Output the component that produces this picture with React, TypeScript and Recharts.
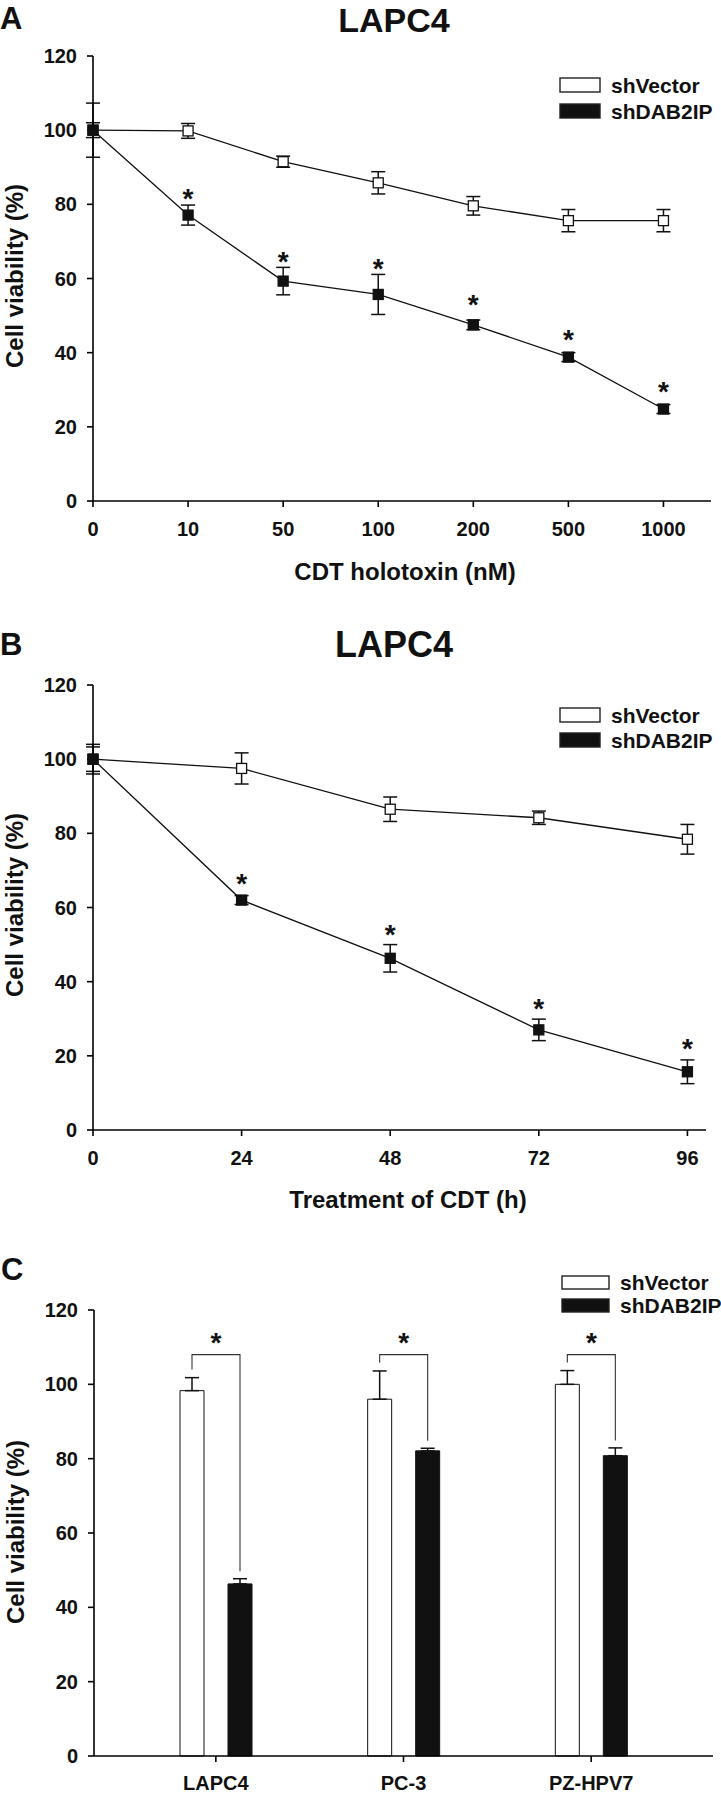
import React from 'react';
import { ComposedChart, Line, Bar, XAxis, YAxis, ErrorBar, LabelList } from 'recharts';

// panel A: dose response (nM)
const doseLabels = ['0', '10', '50', '100', '200', '500', '1000'];
const doseVector = [100, 99.8, 91.5, 85.8, 79.6, 75.6, 75.6];
const doseVectorErr = [2, 2, 1.5, 3, 2.5, 3, 3];
const doseDab = [100, 77.1, 59.3, 55.7, 47.5, 38.8, 24.8];
const doseDabErr = [7.3, 2.7, 3.7, 5.4, 1.3, 1.2, 1.2];
const doseStars = [null, 83.3, 66.3, 64.5, 54.7, 45.3, 31.3];

// panel B: time course (h)
const hours = [0, 24, 48, 72, 96];
const timeVector = [100, 97.5, 86.5, 84.2, 78.4];
const timeVectorErr = [3.3, 4.2, 3.3, 1.8, 4.0];
const timeDab = [100, 62.0, 46.3, 27.0, 15.7];
const timeDabErr = [4.0, 1.2, 3.7, 2.9, 3.2];
const timeStars = [null, 68.3, 54.4, 34.6, 23.8];

// panel C: cell lines
const cellLines = ['LAPC4', 'PC-3', 'PZ-HPV7'];
const cellVector = [98.3, 96.0, 100.0];
const cellVectorErr = [3.5, 7.6, 3.7];
const cellDab = [46.3, 82.1, 80.8];
const cellDabErr = [1.4, 0.7, 2.1];
const bracketLevel = [108, 108, 108];
const starLevel = [113, 113, 113];

const yTicks = [0, 20, 40, 60, 80, 100, 120];

const sans = '"Liberation Sans", Arial, sans-serif';
const ink = '#111';

const BAR = 24;
const GAP = 24;

const dataA = doseLabels.map((_, i) => ({
  x: i,
  vec: doseVector[i],
  vecErr: doseVectorErr[i],
  dab: doseDab[i],
  dabErr: doseDabErr[i],
  star: doseStars[i],
}));

const dataB = hours.map((h, i) => ({
  x: h,
  vec: timeVector[i],
  vecErr: timeVectorErr[i],
  dab: timeDab[i],
  dabErr: timeDabErr[i],
  star: timeStars[i],
}));

const dataC = cellLines.map((c, i) => ({
  cell: c,
  vec: cellVector[i],
  vecErr: cellVectorErr[i],
  dab: cellDab[i],
  dabErr: cellDabErr[i],
  bracket: bracketLevel[i],
  star: starLevel[i],
}));

const axisLine = { stroke: '#000', strokeWidth: 1.6 };
const tickStyle = { fill: ink, fontSize: 20, fontFamily: sans, fontWeight: 'bold' };

function Txt({ x, y, size, anchor = 'start', children }: any) {
  return (
    <text x={x} y={y} textAnchor={anchor} fontSize={size} fontFamily={sans} fontWeight="bold" fill={ink}>
      {children}
    </text>
  );
}

const squareDot = (filled: boolean) => (p: any) => {
  if (p.cx == null || p.cy == null) return <g key={`d${p.index}`} />;
  const s = 10;
  return (
    <rect
      key={`d${p.index}`}
      x={p.cx - s / 2}
      y={p.cy - s / 2}
      width={s}
      height={s}
      fill={filled ? ink : '#fff'}
      stroke={ink}
      strokeWidth={1.3}
    />
  );
};

const Star = ({ x, cy }: any) => (
  <text x={x} y={cy + 16} textAnchor="middle" fontSize={28} fontWeight="bold" fontFamily={sans} fill={ink}>
    *
  </text>
);

const starDot = (p: any) => {
  if (p.cx == null || p.cy == null || p.value == null) return <g key={`s${p.index}`} />;
  return (
    <g key={`s${p.index}`}>
      <Star x={p.cx} cy={p.cy} />
    </g>
  );
};

function LinePanel({ data, top, height, margin, domain, ticks, fmt }: any) {
  return (
    <div style={{ position: 'absolute', left: 0, top }}>
      <ComposedChart width={721} height={height} data={data} margin={margin}>
        <XAxis
          type="number"
          dataKey="x"
          domain={domain}
          ticks={ticks}
          tickFormatter={fmt}
          tick={tickStyle}
          axisLine={axisLine}
          tickLine={axisLine}
          tickSize={6}
          tickMargin={15}
          height={30}
          interval={0}
        />
        <YAxis
          domain={[0, 120]}
          ticks={yTicks}
          tick={tickStyle}
          axisLine={axisLine}
          tickLine={axisLine}
          tickSize={6}
          tickMargin={10}
          width={60}
          interval={0}
        />
        <Line
          dataKey="vec"
          stroke={ink}
          strokeWidth={1.3}
          dot={squareDot(false)}
          activeDot={false}
          isAnimationActive={false}
        >
          <ErrorBar dataKey="vecErr" width={7} stroke={ink} strokeWidth={1.5} />
        </Line>
        <Line
          dataKey="dab"
          stroke={ink}
          strokeWidth={1.3}
          dot={squareDot(true)}
          activeDot={false}
          isAnimationActive={false}
        >
          <ErrorBar dataKey="dabErr" width={7} stroke={ink} strokeWidth={1.5} />
        </Line>
        <Line
          dataKey="star"
          stroke="none"
          dot={starDot}
          activeDot={false}
          isAnimationActive={false}
        />
      </ComposedChart>
    </div>
  );
}

const bracketLabel = (p: any) => {
  const vb = p.viewBox || p;
  const x = vb.x ?? p.x;
  const y = vb.y ?? p.y;
  const w = vb.width ?? p.width;
  const h = vb.height ?? p.height;
  const row = dataC[p.index];
  if (!row || x == null) return null;
  const ppu = h / row.dab;
  const base = y + h;
  const yOf = (v: number) => base - v * ppu;
  const rightX = x + w / 2;
  const leftX = rightX - (BAR + GAP);
  const midX = (leftX + rightX) / 2;
  const by = yOf(row.bracket);
  return (
    <g key={`b${p.index}`}>
      <polyline
        points={`${leftX},${yOf(row.vec + row.vecErr + 2.2)} ${leftX},${by} ${rightX},${by} ${rightX},${yOf(row.dab + row.dabErr + 2)}`}
        fill="none"
        stroke="#333"
        strokeWidth={1.1}
      />
      <Star x={midX} cy={yOf(row.star)} />
    </g>
  );
};

function BarPanel() {
  return (
    <div style={{ position: 'absolute', left: 0, top: 1250 }}>
      <ComposedChart
        width={721}
        height={543}
        data={dataC}
        margin={{ top: 60, right: 8, bottom: 7, left: 34 }}
        barGap={GAP}
      >
        <XAxis
          dataKey="cell"
          tick={tickStyle}
          axisLine={axisLine}
          tickLine={axisLine}
          tickSize={6}
          tickMargin={14}
          height={30}
          padding={{ left: 28, right: 28 }}
          interval={0}
        />
        <YAxis
          domain={[0, 120]}
          ticks={yTicks}
          tick={tickStyle}
          axisLine={axisLine}
          tickLine={axisLine}
          tickSize={6}
          tickMargin={10}
          width={60}
          interval={0}
        />
        <Bar dataKey="vec" fill="#fff" stroke={ink} strokeWidth={1} barSize={BAR} isAnimationActive={false}>
          <ErrorBar dataKey={(d: any) => [0, d.vecErr]} width={7} stroke={ink} strokeWidth={1.5} />
        </Bar>
        <Bar dataKey="dab" fill={ink} stroke={ink} strokeWidth={1} barSize={BAR} isAnimationActive={false}>
          <ErrorBar dataKey={(d: any) => [0, d.dabErr]} width={7} stroke={ink} strokeWidth={1.5} />
          <LabelList dataKey="dab" content={bracketLabel} />
        </Bar>
      </ComposedChart>
    </div>
  );
}

function LegendBlock({ x, y, boxW, rowGap, boxH = 14 }: any) {
  const items = [
    { name: 'shVector', fill: '#fff' },
    { name: 'shDAB2IP', fill: ink },
  ];
  return (
    <g>
      {items.map((it, i) => (
        <g key={it.name}>
          <rect x={x} y={y + i * rowGap} width={boxW} height={boxH} fill={it.fill} stroke="#222" strokeWidth={1.4} />
          <Txt x={x + boxW + 11} y={y + i * rowGap + boxH / 2 + 7.5} size={21}>
            {it.name}
          </Txt>
        </g>
      ))}
    </g>
  );
}

function YTitle({ x, y }: any) {
  return (
    <text
      transform={`translate(${x},${y}) rotate(-90)`}
      textAnchor="middle"
      fontSize={24}
      fontFamily={sans}
      fontWeight="bold"
      fill={ink}
    >
      Cell viability (%)
    </text>
  );
}

function Overlay() {
  return (
    <svg
      width={721}
      height={1793}
      style={{ position: 'absolute', left: 0, top: 0, pointerEvents: 'none' }}
    >
      <Txt x={0} y={29} size={31}>A</Txt>
      <Txt x={394} y={32} size={34} anchor="middle">LAPC4</Txt>
      <Txt x={405} y={580} size={24} anchor="middle">CDT holotoxin (nM)</Txt>
      <YTitle x={23} y={276} />
      <LegendBlock x={560} y={78} boxW={40} rowGap={26} />

      <Txt x={0} y={655} size={31}>B</Txt>
      <Txt x={394} y={657} size={36} anchor="middle">LAPC4</Txt>
      <Txt x={408} y={1208} size={24} anchor="middle">Treatment of CDT (h)</Txt>
      <YTitle x={23} y={905} />
      <LegendBlock x={560} y={708} boxW={40} rowGap={25} />

      <Txt x={1} y={1280} size={31}>C</Txt>
      <YTitle x={24} y={1532} />
      <LegendBlock x={562} y={1276} boxW={47} rowGap={23} boxH={13} />
    </svg>
  );
}

export default function App() {
  return (
    <div style={{ position: 'absolute', left: 0, top: 0, width: 721, height: 1793, background: '#fff' }}>
      <LinePanel
        data={dataA}
        top={0}
        height={600}
        margin={{ top: 56, right: 10, bottom: 69, left: 33 }}
        domain={[0, 6.5]}
        ticks={[0, 1, 2, 3, 4, 5, 6]}
        fmt={(v: number) => doseLabels[v]}
      />
      <LinePanel
        data={dataB}
        top={620}
        height={600}
        margin={{ top: 65, right: 15, bottom: 60, left: 33 }}
        domain={[0, 99]}
        ticks={hours}
        fmt={(v: number) => String(v)}
      />
      <BarPanel />
      <Overlay />
    </div>
  );
}
